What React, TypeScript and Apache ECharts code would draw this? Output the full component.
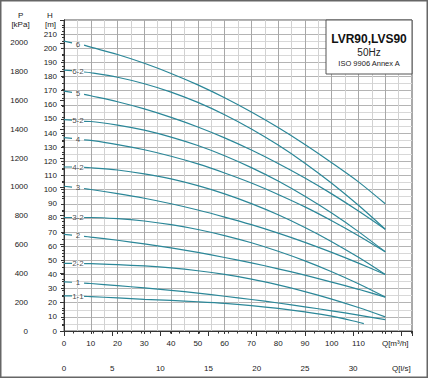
import React, { useEffect, useRef } from 'react';
import * as echarts from 'echarts';

// Flow points (m³/h) at which the curves were read
const flowQ = [0, 3, 7.5, 10, 20, 30, 40, 50, 60, 70, 80, 90, 100, 110, 120];
const flowQ11 = [0, 3, 7.5, 10, 20, 30, 40, 50, 60, 70, 80, 90, 100, 110, 112];
const labelQ = 5.2;

const curveNames = ['6', '6-2', '5', '5-2', '4', '4-2', '3', '3-2', '2', '2-2', '1', '1-1'];

const h6 = [205, 203.8, 202.2, 200.8, 195.6, 189.4, 182.2, 174.1, 165, 154.9, 143.9, 131.9, 119, 105.5, 90];
const h6_2 = [184.5, 184.2, 183.2, 182.7, 179.5, 174.9, 169, 161.7, 153, 142.9, 131.5, 118.7, 104.5, 88.9, 72];
const h5 = [169.7, 168.8, 167.4, 166.4, 162.2, 157.1, 151.1, 144.3, 136.6, 128, 118.5, 108.2, 97, 84.9, 72];
const h5_2 = [149.5, 149.2, 148.3, 148.2, 145.7, 142.1, 137.2, 131.2, 124, 115.6, 106.1, 95.3, 83.4, 70.3, 56];
const h4 = [136.8, 136.3, 135.2, 134.8, 131.9, 128.2, 123.6, 118.2, 111.8, 104.7, 96.6, 87.8, 78, 67.4, 56];
const h4_2 = [116, 116, 115.7, 115.5, 113.9, 111.2, 107.6, 102.8, 97, 90.1, 82.2, 73.2, 63.2, 52.1, 40];
const h3 = [102.4, 101.8, 100.8, 100.1, 97.2, 93.9, 90, 85.6, 80.6, 75.2, 69.2, 62.7, 55.6, 48, 40];
const h3_2 = [80.3, 80.3, 80.3, 80.3, 79.5, 77.8, 75.2, 71.8, 67.5, 62.4, 56.4, 49.6, 41.9, 33.4, 24];
const h2 = [68.3, 67.8, 67, 66.4, 64.2, 61.6, 58.8, 55.6, 52, 48.2, 44, 39.5, 34.6, 29.5, 24];
const h2_2 = [47.8, 47.8, 47.7, 47.6, 47, 46, 44.6, 42.6, 40, 36.7, 32.6, 27.9, 22.6, 16.6, 10];
const h1 = [34.8, 34.5, 33.9, 33.6, 32.1, 30.5, 28.8, 26.8, 24.6, 22.3, 19.8, 17.1, 14.3, 11.2, 8];
const h1_1 = [24.9, 24.8, 24.5, 24.3, 23.4, 22.4, 21.6, 20.7, 19.6, 18, 16, 13.5, 10.5, 6.2, 5.2];

const curves = [h6, h6_2, h5, h5_2, h4, h4_2, h3, h3_2, h2, h2_2, h1, h1_1];

const titleLines = ['LVR90,LVS90', '50Hz', 'ISO 9906 Annex A'];

const H_MAX = 220;
const Q_MAX = 130;
const KPA_PER_M = 9.81;
const LS_PER_M3H = 1 / 3.6;

const FONT = '"Liberation Sans", Arial, sans-serif';
const CURVE_COLOR = '#2b8798';
const TEXT = '#222';
const AXIS = '#333';

export default function App() {
  const ref = useRef<HTMLDivElement>(null);
  useEffect(() => {
    document.body.style.margin = '0';
    const chart = echarts.init(ref.current!, null, { renderer: 'svg' });

    const lineSeries = curves.map((h, i) => {
      const qs = i === curves.length - 1 ? flowQ11 : flowQ;
      const data: any[] = [];
      qs.forEach((q, j) => {
        data.push([q, h[j]]);
        if (j === 1) data.push([labelQ, null]);
      });
      return {
        type: 'line',
        name: curveNames[i],
        data,
        smooth: 0.3,
        showSymbol: false,
        symbol: 'none',
        connectNulls: false,
        lineStyle: { color: CURVE_COLOR, width: 1.2 },
        z: 5,
      };
    });

    const labelSeries = {
      type: 'scatter',
      symbolSize: 0,
      itemStyle: { color: 'rgba(0,0,0,0)' },
      data: curves.map((h, i) => ({ name: curveNames[i], value: [labelQ, (h[1] + h[2]) / 2] })),
      label: {
        show: true,
        position: 'inside',
        formatter: '{b}',
        fontSize: 8,
        color: TEXT,
        fontFamily: FONT,
      },
      z: 6,
    };

    const option: any = {
      animation: false,
      backgroundColor: '#fff',
      textStyle: { fontFamily: FONT },
      grid: {
        left: 64,
        right: 18,
        top: 20,
        bottom: 48,
        show: true,
        borderColor: '#555',
        borderWidth: 1,
      },
      xAxis: [
        {
          type: 'value',
          min: 0,
          max: Q_MAX,
          interval: 10,
          position: 'bottom',
          axisLine: { lineStyle: { color: AXIS } },
          axisTick: { length: 3, lineStyle: { color: AXIS } },
          axisLabel: {
            fontSize: 8,
            color: TEXT,
            margin: 8,
            showMaxLabel: false,
            formatter: (v: number) => (v === 120 ? '{q|Q[m³/h]}' : v === Q_MAX ? '' : String(v)),
            rich: { q: { fontSize: 8, color: TEXT, fontFamily: FONT, padding: [0, 0, 0, 20] } },
          },
          splitLine: { show: true, lineStyle: { color: '#a8a8a8', width: 1 } },
          minorTick: { show: false, splitNumber: 2 },
          minorSplitLine: { show: true, lineStyle: { color: '#d2d2d2', width: 1 } },
        },
        {
          type: 'value',
          min: 0,
          max: Q_MAX * LS_PER_M3H,
          interval: 5,
          position: 'bottom',
          offset: 26,
          axisLine: { show: true, lineStyle: { color: AXIS } },
          axisTick: { show: true, length: 5, lineStyle: { color: AXIS } },
          minorTick: { show: true, splitNumber: 5, length: 2.5, lineStyle: { color: AXIS } },
          axisLabel: {
            fontSize: 8,
            color: TEXT,
            margin: 7,
            showMaxLabel: false,
            formatter: (v: number) => (v === 35 ? 'Q[l/s]' : v % 5 === 0 ? String(v) : ''),
          },
          splitLine: { show: false },
        },
      ],
      yAxis: [
        {
          type: 'value',
          min: 0,
          max: H_MAX,
          interval: 10,
          position: 'left',
          axisLine: { show: true, lineStyle: { color: AXIS } },
          axisTick: { show: true, length: 3, lineStyle: { color: AXIS } },
          minorTick: { show: true, splitNumber: 2, length: 2, lineStyle: { color: AXIS } },
          axisLabel: {
            fontSize: 8,
            color: TEXT,
            margin: 7,
            formatter: (v: number) => (v === H_MAX ? '' : String(v)),
          },
          splitLine: { show: true, lineStyle: { color: '#b4b4b4', width: 1 } },
          minorSplitLine: { show: true, lineStyle: { color: '#d8d8d8', width: 1 } },
        },
        {
          type: 'value',
          min: 0,
          max: H_MAX * KPA_PER_M,
          interval: 200,
          position: 'left',
          offset: 29,
          axisLine: { show: true, lineStyle: { color: AXIS } },
          axisTick: { show: true, length: 4, lineStyle: { color: AXIS } },
          minorTick: { show: true, splitNumber: 5, length: 2, lineStyle: { color: AXIS } },
          axisLabel: {
            fontSize: 8,
            color: TEXT,
            margin: 7,
            showMaxLabel: false,
            formatter: (v: number) => (v % 200 === 0 ? String(v) : ''),
          },
          splitLine: { show: false },
        },
      ],
      graphic: [
        {
          type: 'rect',
          z: 100,
          shape: { x: 0.75, y: 0.75, width: 426.5, height: 376.5 },
          style: { fill: 'none', stroke: '#666', lineWidth: 1.5 },
        },
        {
          type: 'rect',
          z: 100,
          shape: { x: 326, y: 20, width: 86, height: 54 },
          style: { fill: '#fff', stroke: '#555', lineWidth: 1 },
        },
        {
          type: 'text', z: 101, x: 369, y: 38.5,
          style: { text: titleLines[0], fill: '#111', fontSize: 12, fontWeight: 'bold', fontFamily: FONT, align: 'center', verticalAlign: 'middle' },
        },
        {
          type: 'text', z: 101, x: 369, y: 52.5,
          style: { text: titleLines[1], fill: '#222', fontSize: 10, fontFamily: FONT, align: 'center', verticalAlign: 'middle' },
        },
        {
          type: 'text', z: 101, x: 369, y: 63.5,
          style: { text: titleLines[2], fill: '#222', fontSize: 7.5, fontFamily: FONT, align: 'center', verticalAlign: 'middle' },
        },
        {
          type: 'text', z: 101, x: 50, y: 15,
          style: { text: 'H', fill: TEXT, fontSize: 8, fontFamily: FONT, align: 'center', verticalAlign: 'middle' },
        },
        {
          type: 'text', z: 101, x: 50.5, y: 24,
          style: { text: '[m]', fill: TEXT, fontSize: 8, fontFamily: FONT, align: 'center', verticalAlign: 'middle' },
        },
        {
          type: 'text', z: 101, x: 20.7, y: 15,
          style: { text: 'P', fill: TEXT, fontSize: 8, fontFamily: FONT, align: 'center', verticalAlign: 'middle' },
        },
        {
          type: 'text', z: 101, x: 20.5, y: 24,
          style: { text: '[kPa]', fill: TEXT, fontSize: 8, fontFamily: FONT, align: 'center', verticalAlign: 'middle' },
        },
      ],
      series: [...lineSeries, labelSeries],
    };

    chart.setOption(option);
    return () => chart.dispose();
  }, []);

  return <div ref={ref} style={{ width: 430, height: 379, background: '#fff' }} />;
}
